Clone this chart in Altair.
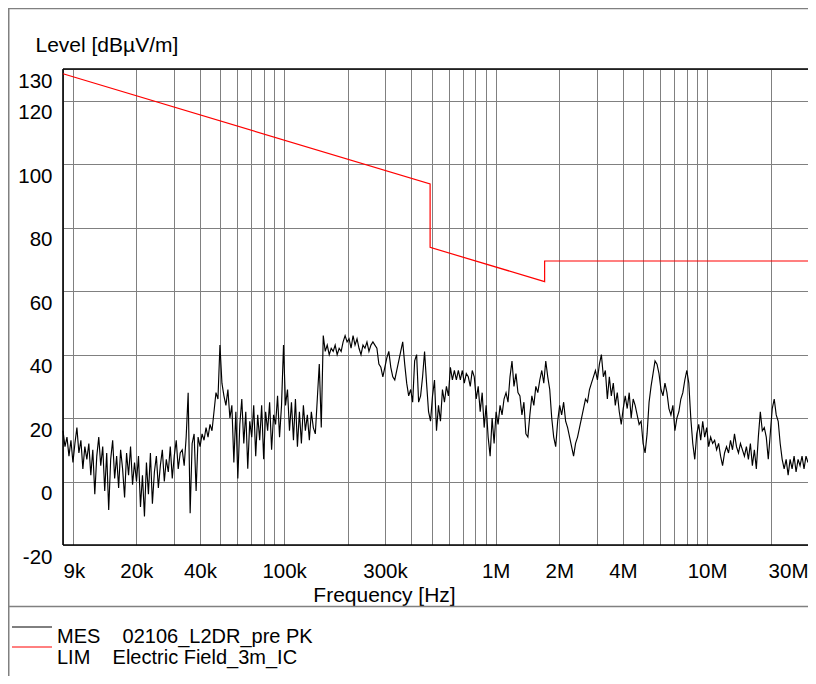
import numpy as np
import pandas as pd
import altair as alt

# ---------------- data ----------------
F_START_HZ = 9000
F_STOP_HZ = 30000000

# measured peak level (dBuV/m) along the sweep, 9 kHz .. 30 MHz
MES_LEVELS = [
    16, 11, 14, 8, 13, 6, 12, 17, 9, 13, 4, 11, 7, 12, 2, 10, -4, 8, 14, 5,
    11, -3, 9, -9, 7, 13, 1, 8, -2, 10, 4, -5, 9, 2, 11, -1, 6, 0, 8, -8,
    2, -11, 6, -4, 9, -7, 3, 8, -2, 5, 10, 0, 7, 3, 11, 1, 8, 13, 4, 9,
    10, 5, 14, 28, -10, 12, 15, -3, 14, 11, 15, 13, 17, 14, 18, 16, 22, 28, 26, 43,
    31, 27, 24, 29, 20, 24, 6, 22, 1, 18, 26, 12, 22, 4, 19, 14, 24, 8, 21, 13,
    24, 7, 22, 16, 25, 10, 21, 18, 27, 14, 24, 43, 24, 29, 16, 25, 13, 26, 11, 22,
    12, 24, 16, 21, 13, 22, 17, 15, 26, 37, 17, 46, 41, 43, 40, 42, 41, 43, 40, 42,
    41, 44, 46, 44, 45, 42, 46, 43, 45, 42, 40, 43, 42, 44, 41, 43, 44, 43, 42, 37,
    36, 33, 36, 39, 41, 36, 33, 32, 35, 38, 41, 44, 37, 31, 27, 29, 25, 38, 40, 25,
    27, 33, 41, 31, 22, 19, 27, 32, 16, 24, 19, 29, 25, 30, 27, 36, 32, 35, 32, 35,
    32, 35, 31, 34, 33, 30, 35, 33, 26, 30, 22, 28, 17, 24, 14, 8, 20, 12, 22, 18,
    24, 21, 26, 28, 25, 33, 38, 30, 34, 28, 27, 21, 25, 15, 14, 21, 27, 24, 30, 28,
    32, 35, 31, 38, 33, 29, 20, 14, 11, 19, 24, 21, 25, 19, 17, 14, 11, 8, 12, 14,
    17, 20, 23, 26, 25, 29, 31, 33, 35, 32, 37, 40, 33, 35, 26, 33, 27, 31, 24, 28,
    22, 18, 23, 27, 23, 28, 20, 26, 24, 21, 18, 19, 12, 9, 15, 25, 30, 34, 38, 37,
    34, 29, 27, 31, 28, 23, 21, 24, 16, 20, 22, 26, 28, 32, 35, 31, 20, 12, 7, 15,
    18, 13, 19, 14, 17, 11, 14, 12, 13, 10, 12, 8, 5, 9, 11, 9, 13, 10, 15, 11,
    9, 12, 10, 8, 11, 7, 12, 5, 10, 4, 14, 22, 16, 17, 14, 7, 15, 23, 26, 21,
    19, 12, 7, 4, 7, 2, 7, 4, 8, 3, 7, 5, 8, 4, 8, 6,
]

# limit line "Electric Field_3m_IC"
LIM_FREQ = [9000, 490000, 490000, 1705000, 1705000, 30000000]
LIM_LEVEL = [128.5, 93.8, 73.8, 63.0, 69.5, 69.5]

Y_TICKS = [-20, 0, 20, 40, 60, 80, 100, 120, 130]
X_LABEL_FREQS = [9000, 20000, 40000, 100000, 300000, 1000000, 2000000, 4000000, 10000000, 30000000]
X_LABELS = ["9k", "20k", "40k", "100k", "300k", "1M", "2M", "4M", "10M", "30M"]
X_GRID_FREQS = [
    10000, 20000, 30000, 40000, 50000, 60000, 70000, 80000, 90000,
    100000, 200000, 300000, 400000, 500000, 600000, 700000, 800000, 900000,
    1000000, 2000000, 3000000, 4000000, 5000000, 6000000, 7000000, 8000000, 9000000,
    10000000, 20000000,
]

NBSP = "\u00a0"
LEGEND_TEXT = ["MES" + NBSP * 4 + "02106_L2DR_pre PK", "LIM" + NBSP * 4 + "Electric Field_3m_IC"]
LEGEND_COLORS = ["black", "red"]

X_TITLE = "Frequency [Hz]"
Y_TITLE = "Level [dBµV/m]"

FONT = "Liberation Sans"
GRID = "#808080"

# ---------------- tables ----------------
mes = pd.DataFrame({
    "f": np.geomspace(F_START_HZ, F_STOP_HZ, len(MES_LEVELS)),
    "level": MES_LEVELS,
})
lim = pd.DataFrame({"f": LIM_FREQ, "level": LIM_LEVEL, "i": range(len(LIM_FREQ))})

label_expr = " : ".join(
    f"datum.value == {v} ? '{t}'" for v, t in zip(X_LABEL_FREQS, X_LABELS)
) + " : ''"

W = 745
H = 476

x_axis = alt.Axis(
    values=sorted(set(X_GRID_FREQS + X_LABEL_FREQS)),
    labelExpr=label_expr,
    labelOverlap=False,
    labelFlush=True,
    ticks=False,
    domain=False,
    grid=True,
    gridColor=GRID,
    gridWidth=1,
    labelFont=FONT,
    labelFontSize=20.5,
    labelColor="black",
    labelBaseline="middle",
    labelPadding=26,
    title=X_TITLE,
    titleFont=FONT,
    titleFontSize=21,
    titleFontWeight="normal",
    titleColor="black",
    titleX=321,
    titleY=50,
    titleAlign="center",
    titleBaseline="middle",
)
y_axis = alt.Axis(
    values=Y_TICKS,
    labelExpr="'' + datum.value",
    ticks=False,
    domain=False,
    grid=True,
    gridColor=GRID,
    gridWidth=1,
    labelFont=FONT,
    labelFontSize=20.5,
    labelColor="black",
    labelAlign="right",
    labelBaseline="middle",
    labelPadding=11,
    labelOffset=12,
    title=Y_TITLE,
    titleFont=FONT,
    titleFontSize=21,
    titleFontWeight="normal",
    titleColor="black",
    titleAngle=0,
    titleX=-28,
    titleY=-24,
    titleAlign="left",
    titleBaseline="middle",
)

xs = alt.Scale(type="log", domain=[F_START_HZ, F_STOP_HZ], nice=False)
ys = alt.Scale(domain=[-20, 130], nice=False, zero=False)


def X():
    return alt.X("f:Q", scale=xs, axis=x_axis)


def Y():
    return alt.Y("level:Q", scale=ys, axis=y_axis)


one = pd.DataFrame({"k": [0]})

# plot borders (drawn through the scales at the domain ends)
top_border = alt.Chart(pd.DataFrame({"level": [130]})).mark_rule(color="black", strokeWidth=1.6).encode(y=Y())
bottom_border = alt.Chart(pd.DataFrame({"level": [-20]})).mark_rule(color="black", strokeWidth=1.3).encode(y=Y())
left_border = alt.Chart(pd.DataFrame({"f": [F_START_HZ]})).mark_rule(color="black", strokeWidth=1.6).encode(x=X())

mes_line = alt.Chart(mes).mark_line(color="black", strokeWidth=1.15).encode(x=X(), y=Y())
lim_line = alt.Chart(lim).mark_line(color="red", strokeWidth=1.2).encode(x=X(), y=Y(), order="i:Q")

# outer frame / separator of the report page
frame_top = alt.Chart(one).mark_rule(color=GRID, strokeWidth=1.5).encode(
    x=alt.value(-55), x2=alt.value(W), y=alt.value(-60.5))
frame_left = alt.Chart(one).mark_rule(color=GRID, strokeWidth=1.5).encode(
    x=alt.value(-54.25), y=alt.value(-61), y2=alt.value(607))
frame_sep = alt.Chart(one).mark_rule(color=GRID, strokeWidth=1.5).encode(
    x=alt.value(-55), x2=alt.value(W), y=alt.value(537.5))

# legend
legend_layers = []
for k, (txt, col) in enumerate(zip(LEGEND_TEXT, LEGEND_COLORS)):
    sw_y = 558 + 20 * k
    legend_layers.append(
        alt.Chart(one).mark_rule(color=col, strokeWidth=1).encode(
            x=alt.value(-51), x2=alt.value(-11), y=alt.value(sw_y))
    )
    legend_layers.append(
        alt.Chart(pd.DataFrame({"t": [txt]})).mark_text(
            align="left", baseline="middle", font=FONT, fontSize=20, color="black"
        ).encode(x=alt.value(-6), y=alt.value(568 + 20.5 * k), text="t:N")
    )

chart = alt.layer(
    top_border, bottom_border, left_border,
    mes_line, lim_line,
    frame_top, frame_left, frame_sep,
    *legend_layers,
).properties(
    width=W,
    height=H,
    padding={"left": 55, "top": 61, "right": 0, "bottom": 131},
    autosize=alt.AutoSizeParams(type="none"),
    background="white",
).configure_view(stroke=None)

chart.save("out.html", embed_options={"renderer": "svg", "actions": False})
